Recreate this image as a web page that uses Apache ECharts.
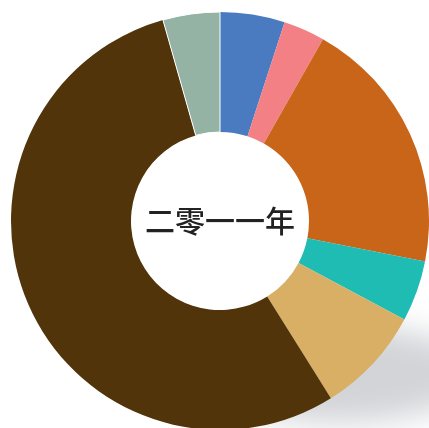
<!DOCTYPE html>
<html>
<head>
<meta charset="utf-8">
<script src="https://cdn.jsdelivr.net/npm/echarts@6/dist/echarts.min.js"></script>
<style>
  html, body { margin: 0; padding: 0; background: #fff; }
  #chart { width: 429px; height: 428px; }
</style>
</head>
<body>
<div id="chart"></div>
<script>
// 各部分占比（%），自12点方向顺时针
const categories = ['类别一', '类别二', '类别三', '类别四', '类别五', '类别六', '类别七']
const values = [5.0, 3.2, 19.9, 4.7, 8.3, 54.5, 4.4]
const colors = ['#4a7bc0', '#f28085', '#c96518', '#1fbcb4', '#d8af65', '#52340a', '#94b3a4']
const centerTitle = '二零一一年'

const chart = echarts.init(document.getElementById('chart'))

const option = {
  animation: false,
  graphic: [
    {
      // 右下角的投影
      type: 'circle',
      z: -10,
      x: 340 - 1000,
      y: 374,
      scaleY: 0.36,
      shape: { cx: 0, cy: 0, r: 135 },
      style: {
        fill: '#000',
        shadowColor: 'rgba(165,169,177,0.5)',
        shadowBlur: 30,
        shadowOffsetX: 1000
      }
    },
    {
      type: 'text',
      z: 100,
      x: 220,
      y: 221,
      style: {
        text: centerTitle,
        fill: '#222',
        font: '500 30px "Noto Sans CJK SC"',
        textAlign: 'center',
        textVerticalAlign: 'middle'
      }
    }
  ],
  series: [
    {
      type: 'pie',
      center: [220, 221],
      radius: [89, 209],
      startAngle: 90,
      clockwise: true,
      label: { show: false },
      labelLine: { show: false },
      emphasis: { disabled: true },
      data: categories.map((name, i) => ({
        name,
        value: values[i],
        itemStyle: {
          color: colors[i],
          borderColor: '#fff',
          borderWidth: i === 6 ? 1 : 0
        }
      }))
    }
  ]
}

chart.setOption(option)
</script>
</body>
</html>
